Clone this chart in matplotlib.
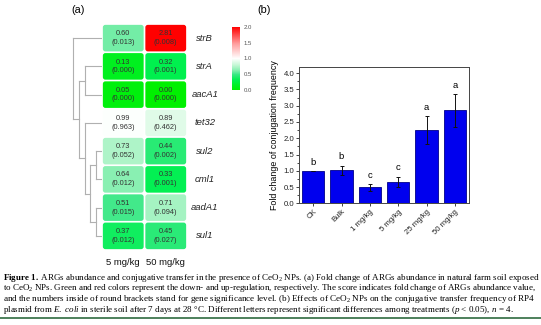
import matplotlib
matplotlib.use("Agg")
import matplotlib.pyplot as plt
import numpy as np
from matplotlib.colors import LinearSegmentedColormap, Normalize
from matplotlib.patches import FancyBboxPatch
from matplotlib.cm import ScalarMappable

plt.rcParams['font.family'] = ['Liberation Sans', 'DejaVu Sans']
plt.rcParams['mathtext.fontset'] = 'custom'
plt.rcParams['mathtext.rm'] = 'Liberation Serif'
plt.rcParams['mathtext.it'] = 'Liberation Serif:italic'
plt.rcParams['mathtext.bf'] = 'Liberation Serif:bold'

# ---------------- data ----------------
genes = ["strB", "strA", "aacA1", "tet32", "sul2", "cml1", "aadA1", "sul1"]
doses = ["5 mg/kg", "50 mg/kg"]
fold_5 = [0.60, 0.13, 0.05, 0.99, 0.73, 0.64, 0.51, 0.37]
fold_50 = [2.81, 0.32, 0.00, 0.89, 0.44, 0.33, 0.71, 0.45]
p_5 = ["0.013", "0.000", "0.000", "0.963", "0.052", "0.012", "0.015", "0.012"]
p_50 = ["0.008", "0.001", "0.000", "0.462", "0.002", "0.001", "0.094", "0.027"]

# dendrogram merges (child_a, child_b, height); leaves 0-7, new nodes numbered 8+
merges = [(4, 5, 6), (6, 7, 6), (8, 9, 12), (3, 10, 17), (1, 2, 17), (12, 11, 23), (0, 13, 29)]

treatments = ["CK", "Bulk", "1 mg/kg", "5 mg/kg", "25 mg/kg", "50 mg/kg"]
conj_fold = [1.00, 1.01, 0.49, 0.66, 2.25, 2.86]
conj_err = [0.0, 0.15, 0.11, 0.16, 0.42, 0.51]
sig_letters = ["b", "b", "c", "c", "a", "a"]
cbar_ticks = [0.0, 0.5, 1.0, 1.5, 2.0]

caption_lines = [
    r"$\mathbf{Figure\ 1.}$ ARGs abundance and conjugative transfer in the presence of CeO$_2$ NPs. (a) Fold change of ARGs abundance in natural farm soil exposed",
    r"to CeO$_2$ NPs. Green and red colors represent the down- and up-regulation, respectively. The score indicates fold change of ARGs abundance value,",
    r"and the numbers inside of round brackets stand for gene significance level. (b) Effects of CeO$_2$ NPs on the conjugative transfer frequency of RP4",
    r"plasmid from $\mathit{E.\ coli}$ in sterile soil after 7 days at 28 °C. Different letters represent significant differences among treatments ($\mathit{p}$ < 0.05), $\mathit{n}$ = 4.",
]

# ---------------- figure ----------------
W, H = 541, 325
fig = plt.figure(figsize=(W / 100, H / 100), dpi=100)


def rect(x0, y0, x1, y1):
    return [x0 / W, 1 - y1 / H, (x1 - x0) / W, (y1 - y0) / H]


cmap = LinearSegmentedColormap.from_list("gwr", [
    (0.0, (0 / 255, 240 / 255, 0 / 255)),
    (0.16, (0 / 255, 240 / 255, 80 / 255)),
    (0.25, (60 / 255, 232 / 255, 135 / 255)),
    (0.32, (140 / 255, 240 / 255, 180 / 255)),
    (0.40, (200 / 255, 248 / 255, 215 / 255)),
    (0.50, (1, 1, 1)),
    (0.75, (1, 150 / 255, 150 / 255)),
    (1.0, (1, 0, 0)),
])
norm = Normalize(0, 2)

# heatmap
axh = fig.add_axes(rect(102, 24, 187, 250))
axh.set_xlim(0, 2)
axh.set_ylim(8, 0)
axh.axis('off')
for j, (vals, ps) in enumerate([(fold_5, p_5), (fold_50, p_50)]):
    for i, (v, p) in enumerate(zip(vals, ps)):
        patch = FancyBboxPatch((j + 0.02, i + 0.03), 0.96, 0.94,
                               boxstyle="round,pad=0,rounding_size=0.06",
                               mutation_aspect=1.5, fc=cmap(norm(v)), ec='none')
        axh.add_patch(patch)
        axh.text(j + 0.5, i + 0.5, f"{v:.2f}\n({p})", ha='center', va='center',
                 fontsize=5.3, color='#333333', linespacing=1.35)
for i, g in enumerate(genes):
    axh.text(2.42, i + 0.5, g, ha='center', va='center', fontsize=6.8,
             style='italic', color='#222222', clip_on=False)
for j, d in enumerate(doses):
    axh.text(j + 0.5, 8.46, d, ha='center', va='center', fontsize=6.8,
             color='#111111', clip_on=False)

# dendrogram
axd = fig.add_axes(rect(70, 24, 102, 250))
axd.set_xlim(32, 0)
axd.set_ylim(8, 0)
axd.axis('off')
pos = {i: (i + 0.5, 0.0) for i in range(len(genes))}
for k, (a, b, h) in enumerate(merges):
    ya, ha = pos[a]
    yb, hb = pos[b]
    axd.plot([ha, h], [ya, ya], color='#b0b0b0', lw=0.8)
    axd.plot([hb, h], [yb, yb], color='#b0b0b0', lw=0.8)
    axd.plot([h, h], [ya, yb], color='#b0b0b0', lw=0.8)
    pos[len(genes) + k] = ((ya + yb) / 2, h)

# colorbar
cax = fig.add_axes(rect(232, 27, 240.5, 90))
cb = fig.colorbar(ScalarMappable(norm=norm, cmap=cmap), cax=cax, ticks=cbar_ticks)
cb.outline.set_visible(False)
cb.ax.set_yticklabels([f"{t:.1f}" for t in cbar_ticks])
cb.ax.tick_params(length=0, labelsize=4.3, labelcolor='#555555', pad=2)

fig.text(78 / W, 1 - 10 / H, "(a)", ha='center', va='center', fontsize=7.8)
fig.text(264 / W, 1 - 10 / H, "(b)", ha='center', va='center', fontsize=7.8)

# bar chart
axb = fig.add_axes(rect(299, 66.7, 469, 203.3))
x = np.arange(len(treatments))
axb.bar(x, conj_fold, width=0.78, color='#0000ee', edgecolor='#00008a', lw=0.6, zorder=2)
axb.errorbar(x, conj_fold, yerr=conj_err, fmt='none', ecolor='#111111',
             elinewidth=0.7, capsize=1.5, capthick=0.7, zorder=3)
for xi, v, e, s in zip(x, conj_fold, conj_err, sig_letters):
    axb.annotate(s, (xi, v + e), xytext=(0, 3), textcoords='offset points',
                 ha='center', va='bottom', fontsize=6.8)
axb.set_xlim(-0.5, len(treatments) - 0.5)
axb.set_ylim(0, 4.2)
axb.set_yticks(np.arange(0, 4.01, 0.5))
axb.set_yticks(np.arange(0.25, 4.2, 0.5), minor=True)
axb.set_xticks(x)
axb.set_xticklabels(treatments, rotation=45, ha='right', rotation_mode='anchor')
axb.tick_params(axis='both', labelsize=5.6, length=2, width=0.6, pad=1.5, colors='#222222')
axb.tick_params(axis='y', which='minor', length=1.2, width=0.5)
axb.tick_params(axis='x', which='minor', bottom=False)
for s in axb.spines.values():
    s.set_linewidth(0.7)
    s.set_color('#444444')
axb.set_ylabel("Fold change of conjugation frequency", fontsize=6.4, labelpad=3)

# caption
cap_y = [278, 288.5, 299, 309.5]
texts = []
for k, (line, yy) in enumerate(zip(caption_lines, cap_y)):
    t = fig.text(3 / W, 1 - yy / H, line, ha='left', va='center', fontsize=6.3,
                 family=['Liberation Serif', 'DejaVu Serif'])
    texts.append(t)
fig.canvas.draw()
r = fig.canvas.get_renderer()
target = 535.0
sizes = []
for t in texts[:3]:
    w = t.get_window_extent(r).width
    fs = t.get_fontsize() * target / w
    t.set_fontsize(fs)
    sizes.append(fs)
texts[3].set_fontsize(np.mean(sizes))

fig.add_artist(plt.Line2D([0, 1], [1 - 318 / H, 1 - 318 / H], color='#2f6b3f', lw=1.2))

fig.savefig("out.png", dpi=100)
